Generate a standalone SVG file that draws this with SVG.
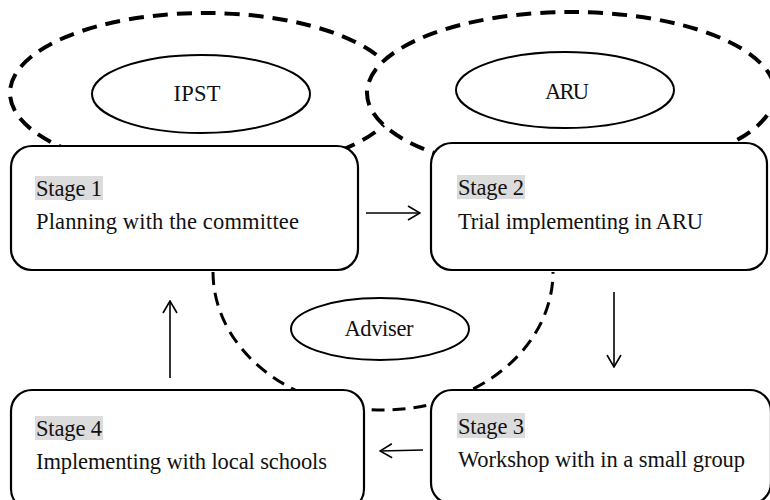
<svg xmlns="http://www.w3.org/2000/svg" width="770" height="500" viewBox="0 0 770 500">
  <defs>
    <style>
      .zone { fill: none; stroke: #000; stroke-width: 4; stroke-dasharray: 15 9; }
      .zone-fill { fill: #fff; }
      .adviser-zone { fill: none; stroke: #000; stroke-width: 3; stroke-dasharray: 13 8; }
      .tag { fill: #fff; stroke: #000; stroke-width: 2; }
      .box { fill: #fff; stroke: #000; stroke-width: 2.2; }
      .hl { fill: #dcdcdc; }
      .lbl { font-family: "Liberation Serif", "Times New Roman", serif; font-size: 22.5px; fill: #111; }
      .mid { text-anchor: middle; }
      .conn { fill: none; stroke: #000; stroke-width: 1.6; }
    </style>
    <marker id="head" viewBox="0 0 14 16" refX="13" refY="8" markerWidth="14" markerHeight="16" markerUnits="userSpaceOnUse" orient="auto">
      <path d="M1,1 L13,8 L1,15" fill="none" stroke="#000" stroke-width="1.6"/>
    </marker>
  </defs>

  <rect width="770" height="500" fill="#fff"/>

  <!-- organisation zones -->
  <g id="zone-ipst">
    <ellipse class="zone" cx="205" cy="93" rx="195" ry="80"/>
  </g>
  <g id="zone-aru">
    <ellipse class="zone zone-fill" cx="571" cy="93" rx="204" ry="81"/>
  </g>
  <g id="zone-adviser">
    <path class="adviser-zone" d="M213,272 A170,138 0 0 0 553,272"/>
  </g>

  <!-- organisation tags -->
  <g id="ipst">
    <ellipse class="tag" cx="201" cy="94" rx="109" ry="39"/>
    <text class="lbl mid" x="197" y="101" textLength="47" lengthAdjust="spacing">IPST</text>
  </g>
  <g id="aru">
    <ellipse class="tag" cx="565" cy="90" rx="109" ry="38"/>
    <text class="lbl mid" x="567" y="99" textLength="44" lengthAdjust="spacing">ARU</text>
  </g>

  <!-- stages -->
  <g id="stage1">
    <rect class="box" x="11" y="146" width="347" height="124" rx="21"/>
    <rect class="hl" x="35" y="176" width="68" height="24"/>
    <text class="lbl" x="36" y="196" textLength="66" lengthAdjust="spacing">Stage 1</text>
    <text class="lbl" x="36" y="229" textLength="263" lengthAdjust="spacing">Planning with the committee</text>
  </g>
  <g id="stage2">
    <rect class="box" x="431" y="143" width="336" height="127" rx="21"/>
    <rect class="hl" x="457" y="175" width="68" height="24"/>
    <text class="lbl" x="458" y="195" textLength="66" lengthAdjust="spacing">Stage 2</text>
    <text class="lbl" x="458" y="229" textLength="245" lengthAdjust="spacing">Trial implementing in ARU</text>
  </g>
  <g id="stage3">
    <rect class="box" x="431" y="390" width="340" height="114" rx="21"/>
    <rect class="hl" x="457" y="413" width="68" height="25"/>
    <text class="lbl" x="458" y="434" textLength="66" lengthAdjust="spacing">Stage 3</text>
    <text class="lbl" x="458" y="467" textLength="287" lengthAdjust="spacing">Workshop with in a small group</text>
  </g>
  <g id="stage4">
    <rect class="box" x="11" y="390" width="353" height="120" rx="21"/>
    <rect class="hl" x="35" y="416" width="68" height="24"/>
    <text class="lbl" x="36" y="436" textLength="66" lengthAdjust="spacing">Stage 4</text>
    <text class="lbl" x="36" y="469" textLength="291" lengthAdjust="spacing">Implementing with local schools</text>
  </g>

  <g id="adviser">
    <ellipse class="tag" cx="380" cy="329" rx="89" ry="31"/>
    <text class="lbl mid" x="379" y="336" textLength="69" lengthAdjust="spacing">Adviser</text>
  </g>

  <!-- cycle connectors -->
  <g id="connectors">
    <line class="conn" x1="366" y1="213" x2="420" y2="213" marker-end="url(#head)"/>
    <line class="conn" x1="614" y1="292" x2="614" y2="367" marker-end="url(#head)"/>
    <line class="conn" x1="423" y1="450" x2="380" y2="451" marker-end="url(#head)"/>
    <line class="conn" x1="170" y1="378" x2="170" y2="301" marker-end="url(#head)"/>
  </g>
</svg>
